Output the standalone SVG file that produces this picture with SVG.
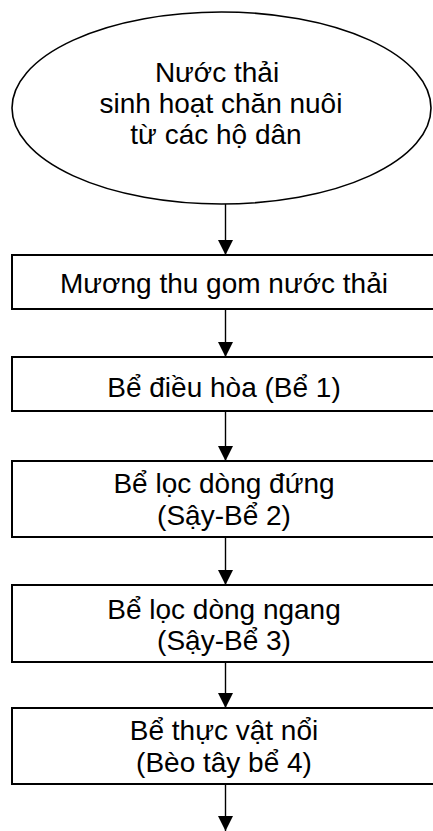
<svg xmlns="http://www.w3.org/2000/svg" width="433" height="831" viewBox="0 0 433 831">
  <defs>
    <style>
      .shape { fill: #ffffff; stroke: #000000; }
      .box { stroke-width: 2; }
      .oval { stroke-width: 1.6; }
      .label { font-family: "Liberation Sans", Arial, sans-serif; font-size: 28px; fill: #000000; text-anchor: middle; }
      .flow { stroke: #000000; stroke-width: 1.4; fill: none; marker-end: url(#arrowhead); }
    </style>
    <marker id="arrowhead" viewBox="0 0 15 15" refX="15" refY="7.5" markerWidth="15" markerHeight="15" markerUnits="userSpaceOnUse" orient="auto">
      <path d="M0,0 L15,7.5 L0,15 Z" fill="#000000"/>
    </marker>
  </defs>

  <rect width="433" height="831" fill="#ffffff"/>

  <!-- connectors -->
  <g id="connectors">
    <line class="flow" x1="225.5" y1="204" x2="225.5" y2="255"/>
    <line class="flow" x1="225.5" y1="309" x2="225.5" y2="357"/>
    <line class="flow" x1="225.5" y1="411" x2="225.5" y2="461"/>
    <line class="flow" x1="225.5" y1="537" x2="225.5" y2="585"/>
    <line class="flow" x1="225.5" y1="662" x2="225.5" y2="708"/>
    <line class="flow" x1="225.5" y1="784" x2="225.5" y2="831"/>
  </g>

  <!-- source -->
  <g id="source">
    <ellipse class="shape oval" cx="221.5" cy="108" rx="209.5" ry="96"/>
    <text class="label" x="217" y="82">Nước thải</text>
    <text class="label" x="221" y="113">sinh hoạt chăn nuôi</text>
    <text class="label" x="216" y="144">từ các hộ dân</text>
  </g>

  <!-- collection ditch -->
  <g id="ditch">
    <rect class="shape box" x="12" y="255" width="428" height="54"/>
    <text class="label" x="224" y="293">Mương thu gom nước thải</text>
  </g>

  <!-- tank 1 -->
  <g id="tank1">
    <rect class="shape box" x="12" y="357" width="428" height="54"/>
    <text class="label" x="224" y="397">Bể điều hòa (Bể 1)</text>
  </g>

  <!-- tank 2 -->
  <g id="tank2">
    <rect class="shape box" x="12" y="461" width="428" height="76"/>
    <text class="label" x="224" y="493">Bể lọc dòng đứng</text>
    <text class="label" x="224" y="525">(Sậy-Bể 2)</text>
  </g>

  <!-- tank 3 -->
  <g id="tank3">
    <rect class="shape box" x="12" y="585" width="428" height="77"/>
    <text class="label" x="224" y="619">Bể lọc dòng ngang</text>
    <text class="label" x="224" y="650">(Sậy-Bể 3)</text>
  </g>

  <!-- tank 4 -->
  <g id="tank4">
    <rect class="shape box" x="12" y="708" width="428" height="76"/>
    <text class="label" x="224" y="740">Bể thực vật nổi</text>
    <text class="label" x="224" y="772">(Bèo tây bể 4)</text>
  </g>
</svg>
